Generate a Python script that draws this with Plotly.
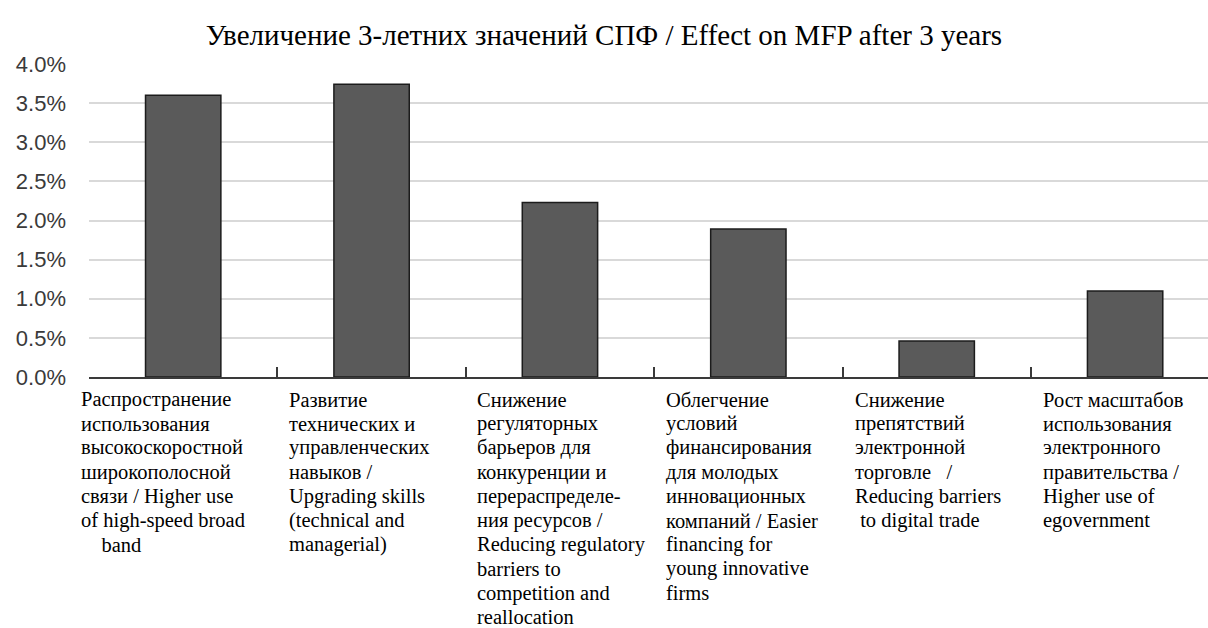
import plotly.graph_objects as go

# Policy measures (Russian / English), one list of text lines per category
categories = [
    ["Распространение", "использования", "высокоскоростной", "широкополосной",
     "связи / Higher use", "of high-speed broad", "\u00a0\u00a0\u00a0\u00a0band"],
    ["Развитие", "технических и", "управленческих", "навыков /",
     "Upgrading skills", "(technical and", "managerial)"],
    ["Снижение", "регуляторных", "барьеров для", "конкуренции и",
     "перераспределе-", "ния ресурсов /", "Reducing regulatory", "barriers to",
     "competition and", "reallocation"],
    ["Облегчение", "условий", "финансирования", "для молодых",
     "инновационных", "компаний / Easier", "financing for", "young innovative", "firms"],
    ["Снижение", "препятствий", "электронной", "торговле\u00a0\u00a0\u00a0/",
     "Reducing barriers", "\u00a0to digital trade"],
    ["Рост масштабов", "использования", "электронного", "правительства /",
     "Higher use of", "egovernment"],
]
# Effect on multifactor productivity after 3 years, %
effect_pct = [3.60, 3.74, 2.23, 1.89, 0.46, 1.10]
y_ticks = [0.0, 0.5, 1.0, 1.5, 2.0, 2.5, 3.0, 3.5, 4.0]
y_tick_labels = [f"{v:.1f}%" for v in y_ticks]
title_text = "Увеличение 3-летних значений СПФ / Effect on MFP after 3 years"

SERIF = "Liberation Serif, Times New Roman, serif"
SANS = "Liberation Sans, Arial, sans-serif"

W, H = 1208, 628
M_L, M_R, M_T, M_B = 89, 0, 64, 251
plot_w = W - M_L - M_R
plot_h = H - M_T - M_B
x_range = [-0.5, 5.44]
cat_w = plot_w / (x_range[1] - x_range[0])   # pixels per category

keys = [f"c{i}" for i in range(len(categories))]

fig = go.Figure(
    go.Bar(
        x=keys,
        y=effect_pct,
        width=0.4,
        marker=dict(color="#5a5a5a", line=dict(color="#1c1c1c", width=1.5)),
        hoverinfo="y",
    )
)

# Category labels: left-aligned near each category's left boundary,
# one annotation per line for a fixed line pitch
label_size = 20.5
line_pitch = 24.2
first_center_px = 399.5          # vertical centre of the first line, from the top
label_offsets = [-0.053, 0.049, 0.047, 0.05, 0.053, 0.056]   # in category widths
for i, (lines, off) in enumerate(zip(categories, label_offsets)):
    x_paper = (i + off) * cat_w / plot_w
    for j, line in enumerate(lines):
        py = first_center_px + j * line_pitch
        fig.add_annotation(
            x=x_paper,
            xref="paper",
            y=(H - M_B - py) / plot_h,
            yref="paper",
            text=line,
            showarrow=False,
            xanchor="left",
            yanchor="middle",
            align="left",
            font=dict(family=SERIF, size=label_size, color="#000000"),
        )

fig.update_layout(
    width=W,
    height=H,
    margin=dict(l=M_L, r=M_R, t=M_T, b=M_B),
    paper_bgcolor="white",
    plot_bgcolor="white",
    showlegend=False,
    title=dict(
        text=title_text,
        x=0.5,
        xref="container",
        xanchor="center",
        y=1 - 35 / H,
        yref="container",
        yanchor="middle",
        font=dict(family=SERIF, size=29, color="#000000"),
    ),
    xaxis=dict(
        type="category",
        range=x_range,
        showticklabels=False,
        showgrid=False,
        showline=True,
        linecolor="#3a3a3a",
        linewidth=2,
        ticks="inside",
        tickson="boundaries",
        ticklen=10,
        tickwidth=2,
        tickcolor="#3a3a3a",
        zeroline=False,
    ),
    yaxis=dict(
        range=[0, 4.0],
        tickvals=y_ticks,
        ticktext=y_tick_labels,
        showline=False,
        showgrid=True,
        gridcolor="#d9d9d9",
        gridwidth=1.5,
        zeroline=False,
        ticks="",
        ticklabelstandoff=22,
        tickfont=dict(family=SANS, size=22, color="#3a3a3a"),
    ),
)

fig.write_html("out.html")
